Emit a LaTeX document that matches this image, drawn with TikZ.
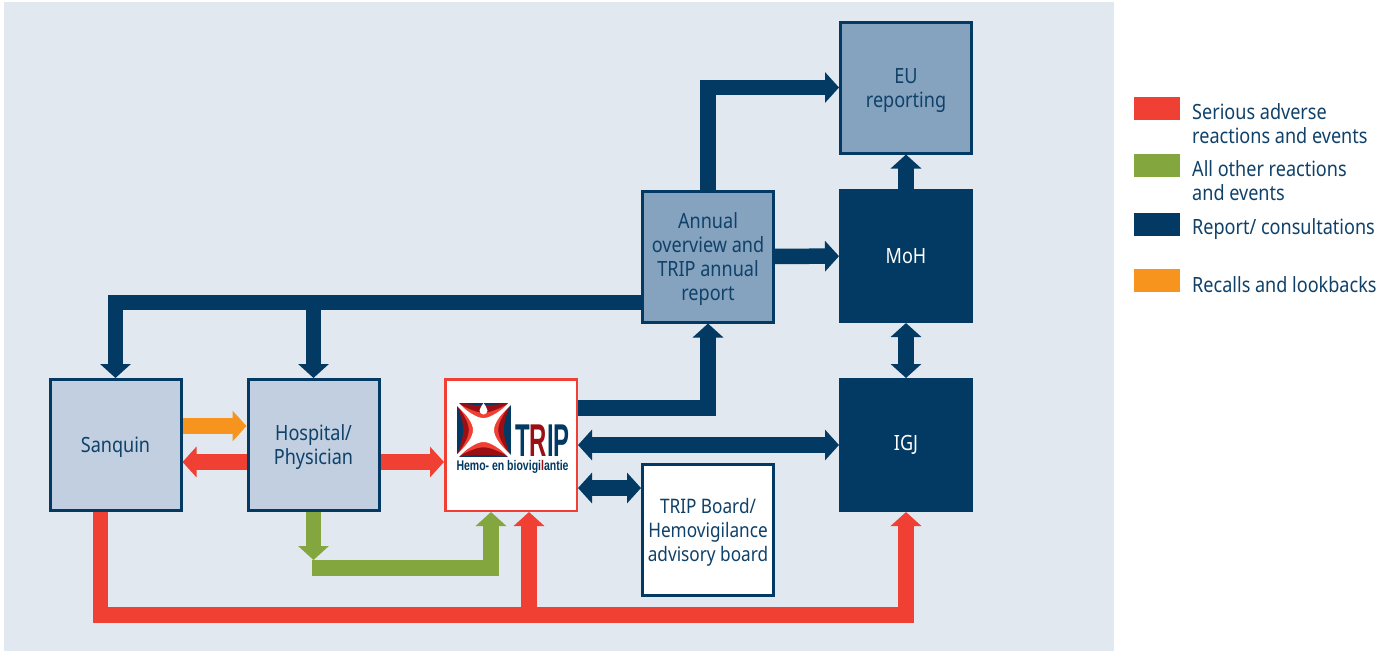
\documentclass[tikz,border=0pt]{standalone}
\usepackage{fontspec}
\usetikzlibrary{arrows.meta,calc}
\setmainfont{Noto Sans}[FakeStretch=0.86]
\newfontfamily\logofont{Liberation Sans}[FakeStretch=0.52]
\newfontfamily\logosub{Liberation Sans}[FakeStretch=0.75]
\definecolor{navy}{HTML}{023A63}
\definecolor{txt}{HTML}{0F4169}
\definecolor{redf}{HTML}{F04033}
\definecolor{greenf}{HTML}{84A63F}
\definecolor{orangef}{HTML}{F7941D}
\definecolor{bgf}{HTML}{E1E8F0}
\definecolor{lightf}{HTML}{C1CFE0}
\definecolor{midf}{HTML}{85A2BF}
\definecolor{darkred}{HTML}{9B0E14}
\newcommand{\lift}{\rule{0pt}{20.5pt}}
\tikzset{
  box/.style={draw=navy,line width=3pt,minimum size=131pt,inner sep=0pt,align=center,text=txt,
    font=\fontsize{21}{24}\selectfont},
  lightbox/.style={box,fill=lightf},
  midbox/.style={box,fill=midf},
  whitebox/.style={box,fill=white},
  darkbox/.style={box,fill=navy,text=white},
  flow/.style={line width=15.5pt,-{Triangle[length=14pt,width=30pt]}},
  flowtwo/.style={line width=15.5pt,{Triangle[length=14pt,width=30pt]}-{Triangle[length=14pt,width=30pt]}},
  swatch/.style={minimum width=46pt,minimum height=23pt,inner sep=0pt},
  legendtext/.style={anchor=west,inner sep=0pt,align=left,text=txt,font=\fontsize{21}{24}\selectfont},
}
% #1 = how near the left/right edges come to the centre, #2 = the same for top/bottom, #3 = colour
\newcommand{\logostar}[3]{%
  \fill[#3] (456.5,403) .. controls (483.5,430-#2) and (483.5,430-#2) .. (510.5,403)
    .. controls (483.5+#1,430) and (483.5+#1,430) .. (510.5,457)
    .. controls (483.5,430+#2) and (483.5,430+#2) .. (456.5,457)
    .. controls (483.5-#1,430) and (483.5-#1,430) .. cycle;}
\begin{document}
\begin{tikzpicture}[x=1pt,y=-1pt]
\useasboundingbox (0,0) rectangle (1378,651);
\fill[bgf] (4,2) rectangle (1114,651);

\node[lightbox] (sanquin) at (115.5,445) {\lift Sanquin};
\node[lightbox] (hospital) at (313.5,445) {\lift Hospital/\\Physician};
\node[box,draw=redf,fill=white,line width=2.5pt,minimum size=131.5pt] (trip) at (511,445) {};
\node[whitebox,font=\fontsize{20}{24}\selectfont] (board) at (708,530) {\lift TRIP Board/\\Hemovigilance\\advisory board};
\node[midbox] (annual) at (708,256.5) {\lift Annual\\overview and\\TRIP annual\\report};
\node[darkbox] (igj) at (906,445) {IGJ};
\node[darkbox] (moh) at (906,256) {MoH};
\node[midbox] (eu) at (906,87.5) {\lift EU\\reporting};

% logo
\fill[navy] (456.5,403) rectangle (510.5,457);
\logostar{18}{24}{darkred}
\logostar{10.5}{14}{redf}
\logostar{5}{7}{white}
\draw[white,line width=3.2pt] (456.5,403) -- (510.5,457) (510.5,403) -- (456.5,457);
\fill[white] (483.5,403) .. controls (484.5,406) and (487.5,407) .. (487.5,410.5)
  arc[start angle=0,end angle=180,radius=4]
  .. controls (479.5,407) and (482.5,406) .. cycle;
\node[inner sep=0pt,anchor=base west,text=navy] (tripword) at (515,456)
  {\logofont\bfseries\fontsize{46}{46}\selectfont T\textcolor{darkred}{R}IP};
\node[inner sep=0pt,anchor=base] (tripsub) at (512.5,470.5)
  {\logosub\bfseries\fontsize{14}{14}\selectfont\color{navy}Hemo- en biovigi\textcolor{darkred}{l}antie};

% connectors
\draw[flow,navy] (annual.north) |- (eu.west);
\draw[flow,navy] (annual) -- (moh);
\draw[flow,navy] (moh) -- (eu);
\draw[flowtwo,navy] (moh) -- (igj);
\coordinate (busstart) at ([yshift=21pt]annual.south west);
\draw[flow,navy] (busstart) -| (sanquin.north);
\draw[flow,navy] (hospital.north |- busstart) -- (hospital.north);
\draw[flow,orangef] ([yshift=19pt]sanquin.east) -- ([yshift=19pt]hospital.west);
\draw[flow,redf] ([yshift=-17pt]hospital.west) -- ([yshift=-17pt]sanquin.east);
\draw[flow,redf] ([yshift=-17pt]hospital.east) -- ([yshift=-17pt]trip.west);
\draw[flow,navy] ([yshift=37pt]trip.east) -| (annual.south);
\draw[flowtwo,navy] (trip.east) -- (igj.west);
\draw[flowtwo,navy] ([yshift=-43pt]trip.east) -- ([yshift=42pt]board.west);
\coordinate (greenbar) at (312,568);
\draw[flow,greenf] (hospital.south) -- (hospital.south |- 0,560);
\draw[flow,greenf] (greenbar) -| ([xshift=-20pt]trip.south);
\coordinate (redbar) at (906,615);
\draw[flow,redf] ([xshift=-15pt]sanquin.south) |- (redbar) -- (igj.south);
\draw[flow,redf] (529,615) -- ([xshift=18pt]trip.south);

% legend
\node[swatch,fill=redf] (s1) at (1157,108.5) {};
\node[swatch,fill=greenf] (s2) at (1157,165.5) {};
\node[swatch,fill=navy] (s3) at (1157,224.5) {};
\node[swatch,fill=orangef] (s4) at (1157,280.5) {};
\node[legendtext] (l1) at (1192,124) {Serious adverse\\reactions and events};
\node[legendtext] (l2) at (1192,181) {All other reactions\\and events};
\node[legendtext] (l3) at (1192,229) {Report/ consultations};
\node[legendtext] (l4) at (1192,285) {Recalls and lookbacks};
\end{tikzpicture}
\end{document}
